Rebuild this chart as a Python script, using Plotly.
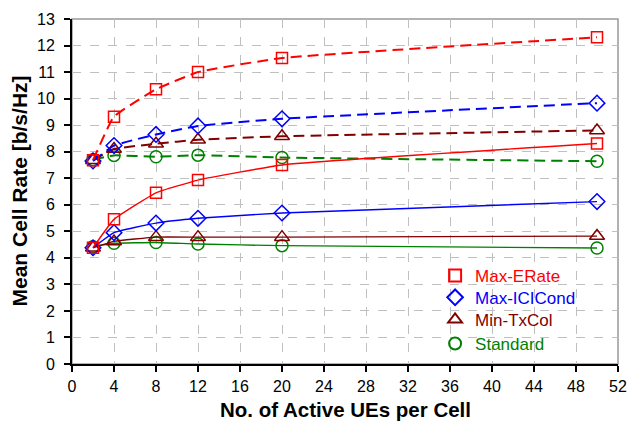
import plotly.graph_objects as go

x_ues = [2, 4, 8, 12, 20, 50]

series_names = ["Max-ERate", "Max-ICICond", "Min-TxCol", "Standard"]
colors = ["#FF0000", "#0000FF", "#800000", "#008000"]
symbols = ["square-open", "diamond-open", "triangle-up-open", "circle-open"]
sizes = [11, 12, 13, 12]

# dashed curves (upper group)
dashed_maxerate = [7.68, 9.32, 10.35, 11.0, 11.53, 12.31]
dashed_maxici = [7.65, 8.23, 8.65, 8.97, 9.24, 9.83]
dashed_mintx = [7.68, 8.1, 8.3, 8.45, 8.58, 8.8]
dashed_standard = [7.7, 7.86, 7.81, 7.87, 7.78, 7.64]

# solid curves (lower group)
solid_maxerate = [4.38, 5.45, 6.45, 6.93, 7.5, 8.31]
solid_maxici = [4.38, 4.95, 5.31, 5.49, 5.69, 6.12]
solid_mintx = [4.38, 4.62, 4.78, 4.78, 4.78, 4.82]
solid_standard = [4.42, 4.55, 4.58, 4.52, 4.46, 4.37]

x_ticks = list(range(0, 53, 4))
y_ticks = list(range(0, 14))

dashed = [dashed_maxerate, dashed_maxici, dashed_mintx, dashed_standard]
solid = [solid_maxerate, solid_maxici, solid_mintx, solid_standard]

FONT = "Liberation Sans, Arial, sans-serif"

fig = go.Figure()

order = [3, 2, 1, 0]
for i in order:
    fig.add_trace(go.Scatter(
        x=x_ues, y=dashed[i], mode="lines+markers",
        line=dict(color=colors[i], width=2, dash="11px,6px", shape="spline", smoothing=0.35),
        marker=dict(symbol=symbols[i], size=sizes[i], color=colors[i], line=dict(width=1.5, color=colors[i])),
        showlegend=False, name=series_names[i]))
for i in order:
    fig.add_trace(go.Scatter(
        x=x_ues, y=solid[i], mode="lines+markers",
        line=dict(color=colors[i], width=1.4, shape="spline", smoothing=0.35),
        marker=dict(symbol=symbols[i], size=sizes[i], color=colors[i], line=dict(width=1.5, color=colors[i])),
        showlegend=False, name=series_names[i]))

# legend entries (markers only, coloured text), each in its own legend box
legend_ids = ["legend", "legend2", "legend3", "legend4"]
legend_y = [0.255, 0.192, 0.128, 0.058]
for i in range(4):
    fig.add_trace(go.Scatter(
        x=[None], y=[None], mode="markers",
        marker=dict(symbol=symbols[i], size=sizes[i], color=colors[i], line=dict(width=1.5, color=colors[i])),
        name=f"<span style='color:{colors[i]}'>{series_names[i]}</span>",
        showlegend=True, legend=legend_ids[i]))

fig.add_shape(type="rect", xref="paper", yref="paper", x0=0, y0=0, x1=1, y1=1,
              line=dict(color="#999999", width=1.5), layer="below")

fig.add_annotation(text="<b>No. of Active UEs per Cell</b>", xref="paper", yref="paper",
                   x=0.5, y=0, yshift=-45, xanchor="center", yanchor="middle",
                   showarrow=False, font=dict(family=FONT, size=20.5, color="black"))
fig.add_annotation(text="<b>Mean Cell Rate [b/s/Hz]</b>", xref="paper", yref="paper",
                   x=0, y=0.5, xshift=-53, xanchor="center", yanchor="middle", textangle=-90,
                   showarrow=False, font=dict(family=FONT, size=21, color="black"))

legend_common = dict(x=0.665, xanchor="left", yanchor="middle",
                     bgcolor="rgba(0,0,0,0)", font=dict(size=17),
                     itemsizing="constant")

fig.update_layout(
    width=627, height=422,
    margin=dict(l=72, r=9, t=19, b=58, autoexpand=False),
    paper_bgcolor="white", plot_bgcolor="white",
    font=dict(family=FONT, color="#000000"),
    legend=dict(y=legend_y[0], **legend_common),
    legend2=dict(y=legend_y[1], **legend_common),
    legend3=dict(y=legend_y[2], **legend_common),
    legend4=dict(y=legend_y[3], **legend_common),
    xaxis=dict(range=[0, 52], tickvals=x_ticks, showgrid=True,
               gridcolor="#C0C0C0", griddash="dash", gridwidth=1,
               ticks="outside", ticklen=6, tickwidth=1.5, tickcolor="black",
               showline=True, linecolor="black", linewidth=2, zeroline=False,
               tickfont=dict(size=16), automargin=False, ticklabelstandoff=1),
    yaxis=dict(range=[0, 13], tickvals=y_ticks, showgrid=True,
               gridcolor="#C0C0C0", griddash="dash", gridwidth=1,
               ticks="outside", ticklen=6, tickwidth=1.5, tickcolor="black",
               showline=True, linecolor="black", linewidth=2, zeroline=False,
               tickfont=dict(size=16), automargin=False, ticklabelstandoff=6),
)

fig.write_html("out.html", config={"displayModeBar": False},
               post_script="document.body.style.margin='0';")
